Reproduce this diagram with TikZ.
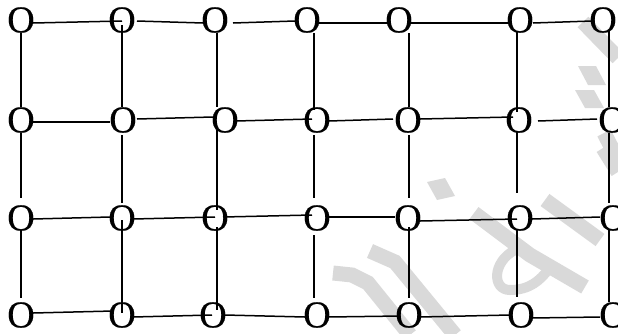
\documentclass[tikz,border=0pt]{standalone}
\usepackage{fontspec}
\setmainfont{Liberation Serif}
\newfontfamily\ofont{Liberation Serif}[FakeBold=0.4]
\usetikzlibrary{calc}
\newcommand\lk[6]{\draw[link] ($(#1)+(#2,#3)$) -- ($(#4)+(#5,#6)$);}
\begin{document}
\begin{tikzpicture}[x=1pt,y=-1pt,
  onode/.style={inner sep=0pt,outer sep=0pt,font=\ofont\fontsize{38}{38}\selectfont},
  link/.style={line width=1.5pt,black},
  wm/.style={line width=15pt,black!15},
  wmf/.style={fill=black!15}]
\useasboundingbox (0,0) rectangle (618,333);
\clip (0,0) rectangle (618,333);
% watermark (faint)
\draw[wm] (583,22) -- (618,58);
\fill[wmf] (578,66) -- (596,66) -- (606,85) -- (588,85) -- cycle;
\fill[wmf] (575,90) -- (594,90) -- (604,108) -- (585,108) -- cycle;
\draw[wm] (604,133) -- (618,160);
\fill[wmf] (427,182) -- (445,178) -- (455,196) -- (437,200) -- cycle;
\draw[wm,line cap=butt] (370,251) -- (395,262) -- (455,335);
\draw[wm,line cap=butt] (333,273) -- (352,275) -- (368,283) -- (410,335);
\draw[wm,line cap=butt] (474,213) -- (530,255) -- (585,287);
\draw[black!15,line width=10pt] (515,250) .. controls (492,262) and (492,290) .. (510,290) .. controls (530,290) and (540,280) .. (548,270);
\draw[wm,line cap=butt] (603,148) -- (618,172);
\draw[wm,line cap=butt] (545,200) -- (600,240);
% nodes
\foreach \c/\x in {1/21,2/122,3/215,4/307,5/399,6/520,7/603}
  \node[onode] (r1c\c) at (\x,20) {O};
\foreach \c/\x in {1/21,2/123,3/225,4/317,5/408,6/519,7/612}
  \node[onode] (r2c\c) at (\x,120) {O};
\foreach \c/\x in {1/21,2/122,3/215,4/317,5/408,6/520,7/613}
  \node[onode] (r3c\c) at (\x,218) {O};
\foreach \c/\x in {1/21,2/122,3/213,4/317,5/409,6/521,7/613}
  \node[onode] (r4c\c) at (\x,315) {O};
% horizontal links
\lk{r1c1}{12}{3}{r1c2}{0}{1}
\lk{r1c2}{15}{1}{r1c3}{-12}{3}
\lk{r1c3}{18}{3}{r1c4}{-12}{1}
\lk{r1c4}{11}{3}{r1c5}{-12}{3}
\lk{r1c5}{11}{3}{r1c6}{-10}{3}
\lk{r1c6}{13}{3}{r1c7}{-11}{1}
\lk{r2c1}{12}{2}{r2c2}{-13}{2}
\lk{r2c2}{14}{-1}{r2c3}{-12}{-3}
\lk{r2c3}{11}{1}{r2c4}{-5}{-1}
\lk{r2c4}{12}{1}{r2c5}{-15}{-1}
\lk{r2c5}{12}{-1}{r2c6}{-6}{-3}
\lk{r2c6}{19}{1}{r2c7}{-15}{-1}
\lk{r3c1}{12}{1}{r3c2}{-12}{-1}
\lk{r3c2}{11}{1}{r3c3}{0}{-1}
\lk{r3c3}{8}{-1}{r3c4}{-5}{-3}
\lk{r3c4}{12}{-1}{r3c5}{-13}{-1}
\lk{r3c5}{12}{3}{r3c6}{-3}{1}
\lk{r3c6}{12}{1}{r3c7}{-13}{-1}
\lk{r4c1}{12}{-2}{r4c2}{-9}{-4}
\lk{r4c2}{11}{2}{r4c3}{-1}{0}
\lk{r4c3}{12}{0}{r4c4}{-12}{2}
\lk{r4c4}{11}{2}{r4c5}{-9}{1}
\lk{r4c5}{11}{2}{r4c6}{-11}{0}
\lk{r4c6}{11}{3}{r4c7}{-13}{2}
% vertical links
\lk{r1c1}{0}{13}{r2c1}{0}{-13}
\lk{r2c1}{0}{13}{r3c1}{0}{-20}
\lk{r3c1}{0}{12}{r4c1}{0}{-17}
\lk{r1c2}{0}{5}{r2c2}{-1}{-13}
\lk{r2c2}{-1}{15}{r3c2}{0}{-15}
\lk{r3c2}{0}{2}{r4c2}{0}{-2}
\lk{r1c3}{2}{13}{r2c3}{-8}{-13}
\lk{r2c3}{-8}{10}{r3c3}{2}{-8}
\lk{r3c3}{2}{9}{r4c3}{4}{-5}
\lk{r1c4}{7}{13}{r2c4}{-3}{-10}
\lk{r2c4}{-3}{15}{r3c4}{-3}{-20}
\lk{r3c4}{-3}{17}{r4c4}{-3}{-17}
\lk{r1c5}{10}{13}{r2c5}{1}{-13}
\lk{r2c5}{1}{15}{r3c5}{1}{-20}
\lk{r3c5}{1}{9}{r4c5}{0}{-17}
\lk{r1c6}{-3}{12}{r2c6}{-2}{-8}
\lk{r2c6}{-2}{12}{r3c6}{-3}{-25}
\lk{r3c6}{-3}{12}{r4c6}{-4}{-18}
\lk{r1c7}{6}{10}{r2c7}{-3}{-13}
\lk{r2c7}{-3}{13}{r3c7}{-4}{-15}
\lk{r3c7}{-4}{12}{r4c7}{-4}{-13}
\end{tikzpicture}
\end{document}
